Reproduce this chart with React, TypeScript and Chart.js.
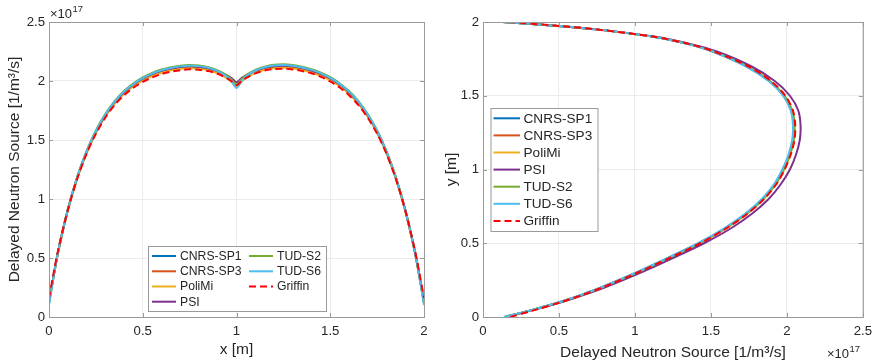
import React, { useEffect, useRef } from 'react';
import { Chart, registerables } from 'chart.js';

Chart.register(...registerables);

const seriesNames = ['CNRS-SP1', 'CNRS-SP3', 'PoliMi', 'PSI', 'TUD-S2', 'TUD-S6', 'Griffin'];
const seriesColors = ['#0072BD', '#D95319', '#EDB120', '#7E2F8E', '#77AC30', '#4DBEEE', '#FF0000'];

// Left panel: horizontal centreline, x [m]
const xPositions = [0, 0.025, 0.05, 0.1, 0.15, 0.2, 0.25, 0.3, 0.35, 0.4, 0.45, 0.5, 0.55, 0.6, 0.65, 0.7, 0.75, 0.8, 0.85, 0.9, 0.95, 0.975, 1.0,
  1.025, 1.05, 1.1, 1.15, 1.2, 1.25, 1.3, 1.35, 1.4, 1.45, 1.5, 1.55, 1.6, 1.65, 1.7, 1.75, 1.8, 1.85, 1.9, 1.95, 1.975, 2.0];

const hTudS2 = [0.12, 0.35, 0.565, 0.91, 1.185, 1.405, 1.58, 1.72, 1.83, 1.915, 1.98, 2.03, 2.068, 2.097, 2.117, 2.13, 2.136, 2.132, 2.117, 2.09, 2.045, 2.01, 1.97,
  2.012, 2.048, 2.094, 2.122, 2.137, 2.141, 2.135, 2.121, 2.1, 2.07, 2.032, 1.981, 1.915, 1.83, 1.72, 1.58, 1.405, 1.185, 0.91, 0.565, 0.35, 0.12];
const hCnrsSp1 = [0.12, 0.35, 0.563, 0.907, 1.18, 1.398, 1.572, 1.711, 1.82, 1.905, 1.97, 2.02, 2.058, 2.087, 2.107, 2.12, 2.126, 2.122, 2.107, 2.081, 2.037, 2.002, 1.96,
  2.004, 2.04, 2.085, 2.113, 2.127, 2.131, 2.125, 2.111, 2.09, 2.06, 2.022, 1.971, 1.905, 1.82, 1.711, 1.572, 1.398, 1.18, 0.907, 0.563, 0.35, 0.12];
const hCnrsSp3 = [0.12, 0.348, 0.56, 0.902, 1.174, 1.391, 1.565, 1.703, 1.811, 1.895, 1.96, 2.009, 2.047, 2.075, 2.095, 2.108, 2.114, 2.11, 2.095, 2.069, 2.026, 1.993, 1.95,
  1.993, 2.029, 2.073, 2.1, 2.114, 2.118, 2.112, 2.098, 2.077, 2.048, 2.011, 1.96, 1.895, 1.811, 1.703, 1.565, 1.391, 1.174, 0.902, 0.56, 0.348, 0.12];
const hPoliMi = [0.12, 0.347, 0.559, 0.9, 1.172, 1.389, 1.562, 1.7, 1.808, 1.892, 1.956, 2.005, 2.042, 2.07, 2.09, 2.103, 2.109, 2.105, 2.091, 2.066, 2.025, 1.994, 1.955,
  1.994, 2.027, 2.07, 2.096, 2.109, 2.113, 2.107, 2.093, 2.072, 2.044, 2.007, 1.957, 1.892, 1.808, 1.7, 1.562, 1.389, 1.172, 0.9, 0.559, 0.347, 0.12];
const hPsi = [0.13, 0.355, 0.566, 0.907, 1.18, 1.398, 1.572, 1.711, 1.82, 1.905, 1.97, 2.02, 2.058, 2.086, 2.106, 2.119, 2.125, 2.121, 2.107, 2.083, 2.047, 2.022, 1.99,
  2.022, 2.048, 2.087, 2.113, 2.126, 2.13, 2.124, 2.11, 2.089, 2.06, 2.022, 1.971, 1.905, 1.82, 1.711, 1.572, 1.398, 1.18, 0.907, 0.566, 0.355, 0.13];
const hTudS6 = [0.10, 0.345, 0.562, 0.908, 1.182, 1.401, 1.576, 1.716, 1.825, 1.91, 1.975, 2.025, 2.063, 2.091, 2.111, 2.124, 2.13, 2.126, 2.111, 2.083, 2.035, 1.995, 1.94,
  1.995, 2.038, 2.087, 2.116, 2.131, 2.135, 2.129, 2.115, 2.094, 2.065, 2.027, 1.976, 1.91, 1.825, 1.716, 1.576, 1.401, 1.182, 0.908, 0.562, 0.345, 0.10];
const hGriffin = [0.16, 0.375, 0.575, 0.905, 1.17, 1.383, 1.553, 1.689, 1.796, 1.879, 1.943, 1.992, 2.03, 2.059, 2.079, 2.092, 2.099, 2.096, 2.084, 2.061, 2.022, 1.996, 1.965,
  1.996, 2.024, 2.064, 2.089, 2.101, 2.104, 2.098, 2.085, 2.065, 2.036, 1.996, 1.945, 1.879, 1.796, 1.689, 1.553, 1.383, 1.17, 0.905, 0.575, 0.375, 0.16];

// Right panel: vertical centreline, y [m]
const yPositions = [0, 0.05, 0.1, 0.15, 0.2, 0.3, 0.4, 0.5, 0.6, 0.7, 0.8, 0.9, 1.0, 1.1, 1.2, 1.3, 1.4, 1.5, 1.6, 1.7, 1.8, 1.85, 1.9, 1.95, 1.975, 2.0];

const vTudS6 = [0.14, 0.33, 0.50, 0.645, 0.775, 1.005, 1.215, 1.415, 1.585, 1.725, 1.835, 1.915, 1.97, 2.01, 2.035, 2.04, 2.025, 1.975, 1.88, 1.73, 1.51, 1.35, 1.12, 0.74, 0.47, 0.13];
const vCnrsSp1 = [0.14, 0.33, 0.502, 0.648, 0.778, 1.008, 1.219, 1.42, 1.591, 1.731, 1.841, 1.921, 1.976, 2.016, 2.04, 2.045, 2.03, 1.98, 1.884, 1.733, 1.512, 1.352, 1.12, 0.74, 0.47, 0.13];
const vCnrsSp3 = [0.14, 0.332, 0.503, 0.65, 0.78, 1.01, 1.221, 1.422, 1.593, 1.733, 1.843, 1.923, 1.978, 2.018, 2.042, 2.047, 2.032, 1.982, 1.886, 1.735, 1.514, 1.353, 1.121, 0.741, 0.47, 0.13];
const vPoliMi = [0.14, 0.333, 0.505, 0.652, 0.783, 1.013, 1.225, 1.427, 1.598, 1.738, 1.848, 1.928, 1.983, 2.022, 2.046, 2.05, 2.035, 1.984, 1.888, 1.737, 1.515, 1.354, 1.122, 0.742, 0.471, 0.13];
const vPsi = [0.15, 0.34, 0.515, 0.665, 0.80, 1.035, 1.25, 1.455, 1.63, 1.77, 1.88, 1.96, 2.02, 2.06, 2.085, 2.09, 2.075, 2.02, 1.92, 1.765, 1.54, 1.37, 1.135, 0.75, 0.475, 0.13];
const vTudS2 = [0.14, 0.332, 0.504, 0.65, 0.781, 1.011, 1.222, 1.424, 1.595, 1.735, 1.845, 1.925, 1.98, 2.02, 2.045, 2.05, 2.035, 1.985, 1.888, 1.737, 1.515, 1.354, 1.122, 0.742, 0.471, 0.13];
const vGriffin = [0.18, 0.35, 0.51, 0.655, 0.785, 1.015, 1.227, 1.43, 1.6, 1.74, 1.85, 1.93, 1.985, 2.025, 2.05, 2.055, 2.04, 1.99, 1.895, 1.745, 1.52, 1.36, 1.125, 0.745, 0.48, 0.17];

const xTicks = [0, 0.5, 1, 1.5, 2];
const sourceTicks = [0, 0.5, 1, 1.5, 2, 2.5];
const yTicks = [0, 0.5, 1, 1.5, 2];

const leftSeries = [hCnrsSp1, hCnrsSp3, hPoliMi, hPsi, hTudS2, hTudS6, hGriffin];
const rightSeries = [vCnrsSp1, vCnrsSp3, vPoliMi, vPsi, vTudS2, vTudS6, vGriffin];

const FONT = "'Liberation Sans', Arial, Helvetica, sans-serif";
const TEXT = '#262626';
const AXIS = '#9a9a9a';
const GRID = '#ebebeb';

type LegendItem = { i: number; x: number; y: number };
type OverlayCfg = {
  box: { x: number; y: number; w: number; h: number };
  items: LegendItem[];
  lineLen: number;
  textGap: number;
  fontSize: number;
  exp: { x: number; y: number };
};

function makeOverlay(cfg: OverlayCfg) {
  return {
    id: 'overlay',
    afterDraw(chart: any) {
      const ctx = chart.ctx as CanvasRenderingContext2D;
      const a = chart.chartArea;
      const xs = chart.scales.x;
      const ys = chart.scales.y;
      ctx.save();
      ctx.strokeStyle = AXIS;
      ctx.lineWidth = 1;
      ctx.setLineDash([]);
      ctx.beginPath();
      xs.ticks.forEach((t: any) => {
        const px = Math.round(xs.getPixelForValue(t.value)) + 0.5;
        ctx.moveTo(px, a.bottom);
        ctx.lineTo(px, a.bottom - 4);
        ctx.moveTo(px, a.top);
        ctx.lineTo(px, a.top + 4);
      });
      ys.ticks.forEach((t: any) => {
        const py = Math.round(ys.getPixelForValue(t.value)) + 0.5;
        ctx.moveTo(a.left, py);
        ctx.lineTo(a.left + 4, py);
        ctx.moveTo(a.right, py);
        ctx.lineTo(a.right - 4, py);
      });
      ctx.stroke();
      ctx.strokeRect(a.left + 0.5, a.top + 0.5, a.right - a.left, a.bottom - a.top);

      const b = cfg.box;
      ctx.fillStyle = '#ffffff';
      ctx.fillRect(b.x, b.y, b.w, b.h);
      ctx.strokeStyle = AXIS;
      ctx.lineWidth = 1;
      ctx.strokeRect(b.x + 0.5, b.y + 0.5, b.w, b.h);
      ctx.font = `${cfg.fontSize}px ${FONT}`;
      ctx.textBaseline = 'middle';
      ctx.textAlign = 'left';
      cfg.items.forEach((it) => {
        const ds = chart.data.datasets[it.i];
        ctx.strokeStyle = ds.borderColor;
        ctx.lineWidth = 2;
        ctx.setLineDash(ds.borderDash || []);
        ctx.beginPath();
        ctx.moveTo(it.x, it.y);
        ctx.lineTo(it.x + cfg.lineLen, it.y);
        ctx.stroke();
        ctx.setLineDash([]);
        ctx.fillStyle = TEXT;
        ctx.fillText(ds.label, it.x + cfg.lineLen + cfg.textGap, it.y + 0.5);
      });

      ctx.fillStyle = TEXT;
      ctx.textBaseline = 'alphabetic';
      ctx.font = `13px ${FONT}`;
      ctx.fillText('\u00d710', cfg.exp.x, cfg.exp.y);
      const w = ctx.measureText('\u00d710').width;
      ctx.font = `9.5px ${FONT}`;
      ctx.fillText('17', cfg.exp.x + w + 0.5, cfg.exp.y - 6);
      ctx.restore();
    },
  };
}

function makeDatasets(points: (i: number) => { x: number; y: number }[]) {
  return seriesNames.map((name, i) => ({
    label: name,
    data: points(i),
    showLine: true,
    borderColor: seriesColors[i],
    backgroundColor: seriesColors[i],
    borderWidth: 2,
    borderDash: i === 6 ? [7, 4] : [],
    pointRadius: 0,
    tension: 0.3,
    fill: false,
    order: 6 - i,
  }));
}

const tickFont = { family: FONT, size: 13.2 };
const titleFont = { family: FONT, size: 15.5 };
const tickLabel = (v: any) => String(v);

export default function App() {
  const leftRef = useRef<HTMLCanvasElement | null>(null);
  const rightRef = useRef<HTMLCanvasElement | null>(null);

  useEffect(() => {
    const left = new Chart(leftRef.current as HTMLCanvasElement, {
      type: 'scatter',
      data: {
        datasets: makeDatasets((i) => xPositions.map((x, k) => ({ x, y: leftSeries[i][k] }))) as any,
      },
      options: {
        animation: false,
        responsive: false,
        devicePixelRatio: 1,
        layout: { padding: { left: 0, right: 16, top: 22, bottom: 0 } },
        plugins: { legend: { display: false }, tooltip: { enabled: false } },
        scales: {
          x: {
            type: 'linear', min: 0, max: 2,
            afterBuildTicks: (s: any) => { s.ticks = xTicks.map((v) => ({ value: v })); },
            ticks: { font: tickFont, color: TEXT, padding: 6, maxRotation: 0, callback: tickLabel },
            grid: { color: GRID, drawTicks: false },
            border: { color: AXIS },
            title: { display: true, text: 'x [m]', font: titleFont, color: TEXT, padding: { top: 0, bottom: 5 } },
            afterFit: (s: any) => { s.height = 47; },
          },
          y: {
            type: 'linear', min: 0, max: 2.5,
            afterBuildTicks: (s: any) => { s.ticks = sourceTicks.map((v) => ({ value: v })); },
            ticks: { font: tickFont, color: TEXT, padding: 4, callback: tickLabel },
            grid: { color: GRID, drawTicks: false },
            border: { color: AXIS },
            title: { display: true, text: 'Delayed Neutron Source [1/m\u00b3/s]', font: titleFont, color: TEXT, padding: { top: 5, bottom: 0 } },
            afterFit: (s: any) => { s.width = 49; },
          },
        },
      } as any,
      plugins: [makeOverlay({
        box: { x: 148, y: 246, w: 178, h: 65 },
        items: [
          { i: 0, x: 152, y: 256 }, { i: 1, x: 152, y: 271.3 }, { i: 2, x: 152, y: 286.5 }, { i: 3, x: 152, y: 301.7 },
          { i: 4, x: 249, y: 256 }, { i: 5, x: 249, y: 271.3 }, { i: 6, x: 249, y: 286.5 },
        ],
        lineLen: 24, textGap: 4, fontSize: 12.2,
        exp: { x: 50, y: 18 },
      })],
    });

    const right = new Chart(rightRef.current as HTMLCanvasElement, {
      type: 'scatter',
      data: {
        datasets: makeDatasets((i) => yPositions.map((y, k) => ({ x: rightSeries[i][k], y }))) as any,
      },
      options: {
        animation: false,
        responsive: false,
        devicePixelRatio: 1,
        layout: { padding: { left: 0, right: 14, top: 22, bottom: 0 } },
        plugins: { legend: { display: false }, tooltip: { enabled: false } },
        scales: {
          x: {
            type: 'linear', min: 0, max: 2.5,
            afterBuildTicks: (s: any) => { s.ticks = sourceTicks.map((v) => ({ value: v })); },
            ticks: { font: tickFont, color: TEXT, padding: 6, maxRotation: 0, callback: tickLabel },
            grid: { color: GRID, drawTicks: false },
            border: { color: AXIS },
            title: { display: true, text: 'Delayed Neutron Source [1/m\u00b3/s]', font: titleFont, color: TEXT, padding: { top: 0, bottom: 2 } },
            afterFit: (s: any) => { s.height = 47; },
          },
          y: {
            type: 'linear', min: 0, max: 2,
            afterBuildTicks: (s: any) => { s.ticks = yTicks.map((v) => ({ value: v })); },
            ticks: { font: tickFont, color: TEXT, padding: 4, callback: tickLabel },
            grid: { color: GRID, drawTicks: false },
            border: { color: AXIS },
            title: { display: true, text: 'y [m]', font: titleFont, color: TEXT, padding: { top: 2, bottom: 0 } },
            afterFit: (s: any) => { s.width = 43; },
          },
        },
      } as any,
      plugins: [makeOverlay({
        box: { x: 50.5, y: 108, w: 107, h: 123 },
        items: seriesNames.map((_, i) => ({ i, x: 53.5, y: 118.3 + i * 17.1 })),
        lineLen: 26.5, textGap: 3.5, fontSize: 13.6,
        exp: { x: 387, y: 358 },
      })],
    });

    return () => {
      left.destroy();
      right.destroy();
    };
  }, []);

  return (
    <div style={{ position: 'absolute', left: 0, top: 0, width: 878, height: 364, background: '#ffffff' }}>
      <canvas ref={leftRef} width={440} height={364} style={{ position: 'absolute', left: 0, top: 0, width: 440, height: 364 }} />
      <canvas ref={rightRef} width={438} height={364} style={{ position: 'absolute', left: 440, top: 0, width: 438, height: 364 }} />
    </div>
  );
}
